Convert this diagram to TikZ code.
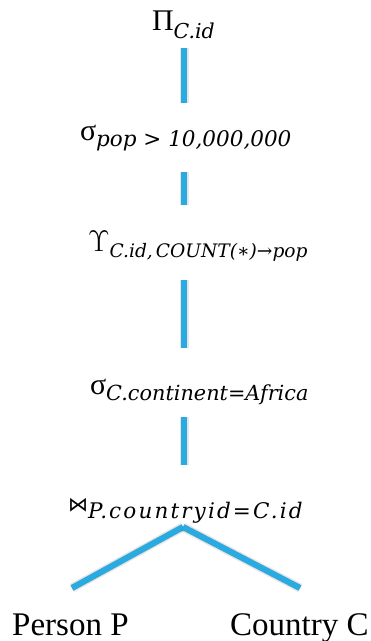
\RequirePackage{fix-cm}
\documentclass[tikz,border=0pt]{standalone}
\usepackage[no-math]{fontspec}
\setmainfont{Liberation Serif}
\newfontfamily\tnr{Liberation Serif}
\newfontfamily\djs{DejaVu Sans}
\newfontfamily\subf{DejaVu Serif}
\definecolor{lineblue}{RGB}{41,171,226}
\newcommand\subtx[3]{\raisebox{#1}{\subf\itshape\fontsize{#2}{24}\selectfont #3}}
\newcommand\opsize{\tnr\fontsize{30}{34}\selectfont}
\begin{document}
\begin{tikzpicture}[x=1pt,y=-1pt,
  conn/.style={line width=6pt, draw=lineblue},
  shadA/.style={line width=9pt, draw=black, opacity=0.10, xshift=3pt, yshift=-2pt},
  shadB/.style={line width=6pt, draw=black, opacity=0.22, xshift=2.5pt, yshift=-1.5pt},
  lab/.style={anchor=base west, inner sep=0pt, outer sep=0pt},
  leaf/.style={anchor=base west, inner sep=0pt, font=\tnr\fontsize{33}{36}\selectfont}]
\useasboundingbox (0,0) rectangle (371,641);
\newcommand\link[2]{%
  \draw[shadA] (#1) -- (#2);
  \draw[shadB] (#1) -- (#2);
  \draw[conn] (#1) -- (#2);}
% labels
\node[lab] (proj) at (152,30) {\opsize Π\subtx{-8pt}{20.5}{C.id}};
\node[lab] (sel1) at (80,140) {\opsize σ\subtx{-6pt}{21.5}{pop > 10,000,000}};
\node[lab] (grp) at (88,251) {\opsize$\Upsilon$\subtx{-6pt}{18.6}{C.id,\,COUNT(∗)→pop}};
\node[lab] (sel2) at (90,394) {\opsize σ\subtx{-6pt}{20.8}{C.continent=Africa}};
\node[lab] (join) at (68,508) {\raisebox{-3pt}{\djs\fontsize{20}{22}\selectfont ⋈}\subtx{-10pt}{21.5}{\addfontfeatures{LetterSpace=10}P.countryid=C.id}};
\node[leaf] (person) at (12,635) {Person P};
\node[leaf] (country) at (230,635) {Country C};
% connector end points
\coordinate (a1) at (184,48);  \coordinate (b1) at (184,103);
\coordinate (a2) at (184,172); \coordinate (b2) at (184,205);
\coordinate (a3) at (184,280); \coordinate (b3) at (184,348);
\coordinate (a4) at (184,417); \coordinate (b4) at (184,465);
\coordinate (apex) at (183,527);
\coordinate (jl) at (72,588);
\coordinate (jr) at (300,588);
\link{a1}{b1}
\link{a2}{b2}
\link{a3}{b3}
\link{a4}{b4}
\link{apex}{jl}
\link{apex}{jr}
\end{tikzpicture}
\end{document}
